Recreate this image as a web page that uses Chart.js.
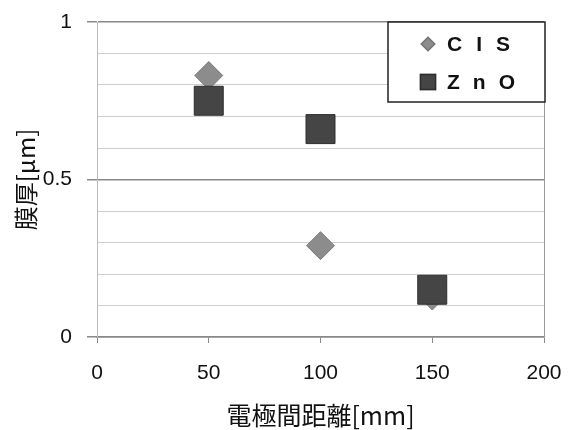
<!DOCTYPE html>
<html>
<head>
<meta charset="utf-8">
<script src="https://cdn.jsdelivr.net/npm/chart.js@4/dist/chart.umd.min.js"></script>
<style>
  html, body { margin: 0; padding: 0; background: #fff; }
  #wrap { width: 575px; height: 430px; }
</style>
</head>
<body>
<div id="wrap"><canvas id="thickness-chart" width="575" height="430"></canvas></div>
<script>
// Electrode distance [mm] vs film thickness [um]
const distances = [50, 100, 150];
const cisThickness = [0.83, 0.29, 0.13];
const znoThickness = [0.75, 0.66, 0.15];
const seriesNames = ['CIS', 'ZnO'];
const xTicks = [0, 50, 100, 150, 200];
const yLabelled = [0, 0.5, 1];

const textFont = "'Liberation Sans', Arial, sans-serif";
const cjkFont = "'Noto Sans CJK JP', 'Liberation Sans', sans-serif";

function toPoints(xs, ys) {
  return xs.map((x, i) => ({ x: x, y: ys[i] }));
}

function isLabelled(v) {
  return yLabelled.includes(Math.round(v * 10) / 10);
}

// Boxed legend in the top-right corner of the plot
const boxLegend = {
  id: 'boxLegend',
  afterDraw(chart) {
    const ctx = chart.ctx;
    const left = 388, top = 22, right = 545, bottom = 102;
    ctx.save();
    ctx.fillStyle = '#fff';
    ctx.fillRect(left, top, right - left, bottom - top);
    ctx.strokeStyle = '#222';
    ctx.lineWidth = 1.5;
    ctx.strokeRect(left, top, right - left, bottom - top);

    const rows = [44, 82];
    const markerRadius = [6.5, 10.6];
    const spacing = ['14px', '13px'];
    chart.data.datasets.forEach((ds, i) => {
      Chart.helpers.drawPoint(ctx, {
        pointStyle: ds.pointStyle,
        radius: markerRadius[i],
        borderWidth: 1
      }, 428, rows[i]);
      ctx.fillStyle = ds.backgroundColor;
      ctx.strokeStyle = ds.borderColor;
      ctx.fill();
      ctx.stroke();

      ctx.fillStyle = '#111';
      ctx.font = 'bold 21px ' + textFont;
      ctx.textBaseline = 'middle';
      ctx.textAlign = 'left';
      ctx.letterSpacing = spacing[i];
      ctx.fillText(ds.label, 447, rows[i] + 1);
    });
    ctx.restore();
  }
};

// Right-hand frame line of the plot area
const plotFrame = {
  id: 'plotFrame',
  beforeDatasetsDraw(chart) {
    const a = chart.chartArea;
    const ctx = chart.ctx;
    ctx.save();
    ctx.strokeStyle = '#999';
    ctx.lineWidth = 1;
    ctx.beginPath();
    ctx.moveTo(a.right + 0.5, a.top);
    ctx.lineTo(a.right + 0.5, a.bottom);
    ctx.stroke();
    ctx.restore();
  }
};

new Chart(document.getElementById('thickness-chart').getContext('2d'), {
  type: 'scatter',
  data: {
    datasets: [
      {
        label: seriesNames[0],
        data: toPoints(distances, cisThickness),
        order: 1,
        pointStyle: 'rectRot',
        pointRadius: 14,
        backgroundColor: '#8c8c8c',
        borderColor: '#7a7a7a',
        borderWidth: 1
      },
      {
        label: seriesNames[1],
        data: toPoints(distances, znoThickness),
        order: 0,
        pointStyle: 'rect',
        pointRadius: 20.5,
        backgroundColor: '#454545',
        borderColor: '#2e2e2e',
        borderWidth: 1
      }
    ]
  },
  options: {
    responsive: false,
    animation: false,
    layout: { padding: { top: 22, right: 31, left: 0, bottom: 0 } },
    plugins: {
      legend: { display: false },
      tooltip: { enabled: false }
    },
    scales: {
      x: {
        type: 'linear',
        min: 0,
        max: 200,
        afterBuildTicks: scale => { scale.ticks = xTicks.map(v => ({ value: v })); },
        afterFit: scale => {
          scale.height = 93;
          scale.paddingLeft = 0;
          scale.paddingRight = 0;
        },
        border: { color: '#888', width: 1.5 },
        grid: { drawOnChartArea: false, drawTicks: true, tickLength: 6, color: '#888' },
        ticks: { color: '#111', font: { family: textFont, size: 21 }, padding: 18 },
        title: {
          display: true,
          text: '電極間距離[mm]',
          color: '#111',
          font: { family: cjkFont, size: 25 },
          padding: { top: 0, bottom: 0 }
        }
      },
      y: {
        type: 'linear',
        min: 0,
        max: 1,
        ticks: {
          stepSize: 0.1,
          color: '#111',
          font: { family: textFont, size: 21 },
          padding: 15,
          callback: v => (isLabelled(v) ? String(Math.round(v * 10) / 10) : '')
        },
        afterFit: scale => {
          scale.width = 97;
          scale.paddingTop = 0;
          scale.paddingBottom = 0;
        },
        border: { color: '#bbb', width: 1 },
        grid: {
          drawTicks: true,
          tickLength: 10,
          color: ctx => (isLabelled(ctx.tick.value) ? '#888' : '#cfcfcf'),
          tickColor: ctx => (isLabelled(ctx.tick.value) ? '#888' : 'rgba(0,0,0,0)'),
          lineWidth: ctx => (isLabelled(ctx.tick.value) ? 1.5 : 1)
        },
        title: {
          display: true,
          text: '膜厚[μm]',
          color: '#111',
          font: { family: cjkFont, size: 24 },
          padding: { top: 11, bottom: 0 }
        }
      }
    }
  },
  plugins: [plotFrame, boxLegend]
});
</script>
</body>
</html>
